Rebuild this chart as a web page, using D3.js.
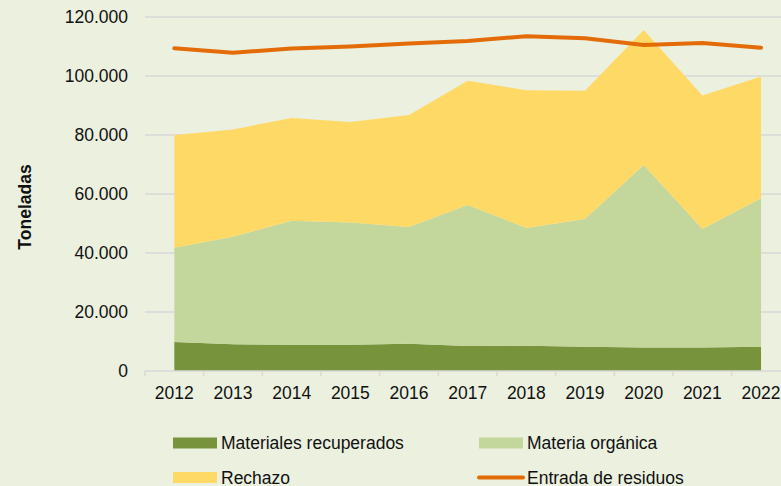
<!DOCTYPE html>
<html>
<head>
<meta charset="utf-8">
<script src="https://cdn.jsdelivr.net/npm/d3@7"></script>
<style>
  html, body { margin: 0; padding: 0; background: #EBF0DF; }
  svg { display: block; font-family: "Liberation Sans", Arial, sans-serif; }
</style>
</head>
<body>
<div id="chart"></div>
<script>
// datos (toneladas)
const years = ["2012", "2013", "2014", "2015", "2016", "2017", "2018", "2019", "2020", "2021", "2022"];
const recuperados = [9800, 9050, 8900, 8900, 9250, 8500, 8600, 8250, 7950, 8000, 8200];
const organica = [32000, 36450, 42000, 41400, 39550, 47800, 39900, 43250, 61850, 40100, 50400];
const rechazo = [38200, 36400, 34900, 34100, 38000, 42100, 46700, 43500, 45800, 45300, 41200];
const entrada = [109400, 107900, 109300, 110000, 111000, 111900, 113500, 112800, 110500, 111200, 109600];
const yTicks = [0, 20000, 40000, 60000, 80000, 100000, 120000];

const seriesNames = ["Materiales recuperados", "Materia orgánica", "Rechazo"];
const colors = ["#77933C", "#C3D69B", "#FFD966"];
const LINE_COLOR = "#E36C09";

const width = 781, height = 486;
const svg = d3.select("#chart").append("svg").attr("width", width).attr("height", height);

const x = d3.scaleBand().domain(years).range([145, 145 + 58.67 * years.length]);
const y = d3.scaleLinear().domain([0, 120000]).range([371, 17]);
const cx = d => x(d) + x.bandwidth() / 2;

const fmt = v => d3.format(",")(v).replace(/,/g, ".");

// gridlines
svg.append("g").selectAll("line").data(yTicks.slice(1)).join("line")
  .attr("x1", 145).attr("x2", width)
  .attr("y1", d => y(d)).attr("y2", d => y(d))
  .attr("stroke", "#D9D9D9").attr("stroke-width", 1.5);

// areas apiladas
const table = years.map((yr, i) => ({ year: yr, a: recuperados[i], b: organica[i], c: rechazo[i] }));
const stack = d3.stack().keys(["a", "b", "c"])(table);
const area = d3.area()
  .x(d => cx(d.data.year))
  .y0(d => y(d[0])).y1(d => y(d[1]));

svg.append("g").selectAll("path").data(stack).join("path")
  .attr("d", area)
  .attr("fill", (d, i) => colors[i]);

// linea de entrada
const line = d3.line().x((d, i) => cx(years[i])).y(d => y(d));
svg.append("path").datum(entrada)
  .attr("d", line)
  .attr("fill", "none").attr("stroke", LINE_COLOR)
  .attr("stroke-width", 4).attr("stroke-linecap", "round").attr("stroke-linejoin", "round");

// eje x
const xAxis = svg.append("g").attr("transform", "translate(0,371)");
xAxis.append("line").attr("x1", 145).attr("x2", width).attr("stroke", "#D9D9D9").attr("stroke-width", 1.5);
xAxis.selectAll("line.tick").data(years).join("line").attr("class", "tick")
  .attr("x1", d => x(d)).attr("x2", d => x(d)).attr("y1", 0).attr("y2", 5)
  .attr("stroke", "#D9D9D9").attr("stroke-width", 1.5);
xAxis.selectAll("text").data(years).join("text")
  .attr("x", d => cx(d)).attr("y", 28)
  .attr("text-anchor", "middle").attr("font-size", "17.5px").attr("fill", "#111")
  .text(d => d);

// eje y
svg.append("g").selectAll("text").data(yTicks).join("text")
  .attr("x", 128).attr("y", d => y(d) + 6)
  .attr("text-anchor", "end").attr("font-size", "17.5px").attr("fill", "#111")
  .text(d => fmt(d));

svg.append("text")
  .attr("transform", "translate(31,207) rotate(-90)")
  .attr("text-anchor", "middle").attr("font-size", "17.5px").attr("font-weight", "bold").attr("fill", "#111")
  .text("Toneladas");

// leyenda
const legendItems = [
  { name: seriesNames[0], color: colors[0], type: "rect", lx: 173, ly: 443 },
  { name: seriesNames[1], color: colors[1], type: "rect", lx: 479, ly: 443 },
  { name: seriesNames[2], color: colors[2], type: "rect", lx: 173, ly: 477.5 },
  { name: "Entrada de residuos", color: LINE_COLOR, type: "line", lx: 479, ly: 477.5 }
];
const lg = svg.append("g").selectAll("g").data(legendItems).join("g")
  .attr("transform", d => `translate(${d.lx},${d.ly})`);
lg.filter(d => d.type === "rect").append("rect")
  .attr("x", 0).attr("y", -5.5).attr("width", 44).attr("height", 11).attr("fill", d => d.color);
lg.filter(d => d.type === "line").append("line")
  .attr("x1", 0).attr("x2", 44).attr("y1", 0).attr("y2", 0)
  .attr("stroke", d => d.color).attr("stroke-width", 4).attr("stroke-linecap", "round");
lg.append("text").attr("x", 48).attr("y", 6)
  .attr("font-size", "17.5px").attr("fill", "#111")
  .text(d => d.name);
</script>
</body>
</html>
